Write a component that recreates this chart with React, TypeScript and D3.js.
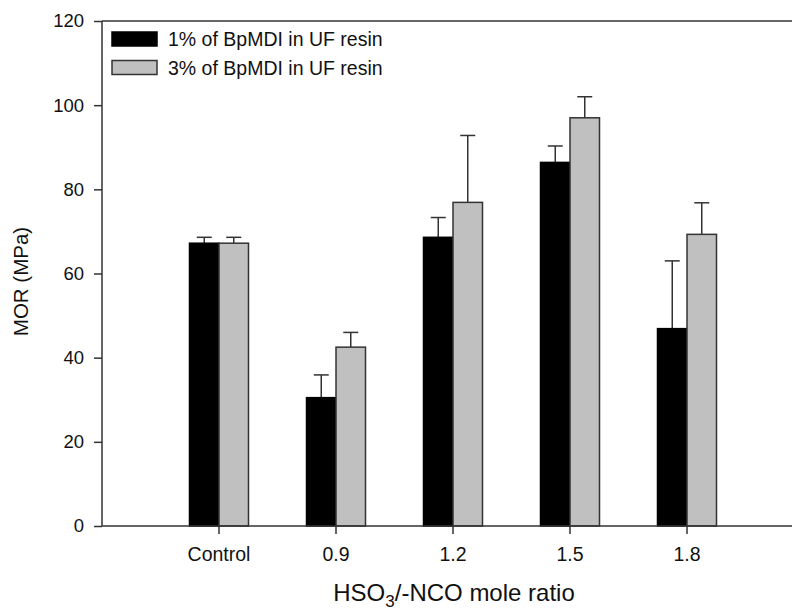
import { useRef, useEffect } from "react";
import * as d3 from "d3";

// MOR by HSO3/-NCO mole ratio, two BpMDI levels
const categories = ["Control", "0.9", "1.2", "1.5", "1.8"];
const seriesNames = ["1% of BpMDI in UF resin", "3% of BpMDI in UF resin"];
const mor1 = [67.2, 30.5, 68.6, 86.4, 46.9];
const err1 = [1.4, 5.4, 4.7, 3.9, 16.1];
const mor3 = [67.2, 42.5, 76.9, 97.0, 69.3];
const err3 = [1.4, 3.5, 15.9, 5.0, 7.5];
const yTicks = [0, 20, 40, 60, 80, 100, 120];

const width = 792;
const height = 610;
const margin = { top: 21, right: 0, bottom: 84, left: 102 };
const font = "Arial, 'Liberation Sans', sans-serif";
const fills = ["#000000", "#c0c0c0"];
const lineCol = "#333333";

const App = () => {
  const svgRef = useRef<SVGSVGElement>(null);

  useEffect(() => {
    const svg = d3.select(svgRef.current);
    svg.selectAll("*").remove();

    const y = d3
      .scaleLinear()
      .domain([0, 120])
      .range([height - margin.bottom, margin.top]);

    const x = d3.scaleBand().domain(categories).range([160.5, 745.5]).padding(0);
    const inner = d3.scaleBand().domain(["0", "1"]).range([-29.5, 29.5]);

    const rows = categories.map((c, i) => ({
      cat: c,
      vals: [
        { s: 0, v: mor1[i], e: err1[i] },
        { s: 1, v: mor3[i], e: err3[i] },
      ],
    }));

    const groups = svg
      .append("g")
      .selectAll("g")
      .data(rows)
      .enter()
      .append("g")
      .attr("transform", (d) => `translate(${x(d.cat)! + x.bandwidth() / 2},0)`);

    // error bars (upper only)
    groups
      .selectAll("g.err")
      .data((d) => d.vals)
      .enter()
      .append("g")
      .attr("class", "err")
      .each(function (d) {
        const g = d3.select(this);
        const cx = inner(String(d.s))! + inner.bandwidth() / 2;
        g.append("line")
          .attr("x1", cx)
          .attr("x2", cx)
          .attr("y1", y(d.v))
          .attr("y2", y(d.v + d.e))
          .attr("stroke", lineCol)
          .attr("stroke-width", 1.5);
        g.append("line")
          .attr("x1", cx - 7.5)
          .attr("x2", cx + 7.5)
          .attr("y1", y(d.v + d.e))
          .attr("y2", y(d.v + d.e))
          .attr("stroke", lineCol)
          .attr("stroke-width", 1.5);
      });

    groups
      .selectAll("rect")
      .data((d) => d.vals)
      .enter()
      .append("rect")
      .attr("x", (d) => inner(String(d.s))!)
      .attr("width", inner.bandwidth())
      .attr("y", (d) => y(d.v))
      .attr("height", (d) => y(0) - y(d.v))
      .attr("fill", (d) => fills[d.s])
      .attr("stroke", (d) => (d.s === 0 ? "#000" : lineCol))
      .attr("stroke-width", 1.5);

    // frame lines: top and bottom run off the right edge
    svg
      .append("line")
      .attr("x1", margin.left)
      .attr("x2", width)
      .attr("y1", y(120))
      .attr("y2", y(120))
      .attr("stroke", lineCol)
      .attr("stroke-width", 1.5);

    const yAxis = svg
      .append("g")
      .attr("transform", `translate(${margin.left},0)`)
      .call(d3.axisLeft(y).tickValues(yTicks).tickSize(8).tickPadding(10));
    yAxis.select(".domain").attr("stroke", lineCol).attr("stroke-width", 1.5).attr("d", `M0,${y(0)}V${y(120)}`);
    yAxis.selectAll(".tick line").attr("stroke", lineCol).attr("stroke-width", 1.5);
    yAxis
      .selectAll(".tick text")
      .attr("font-family", font)
      .attr("font-size", 18.5)
      .attr("fill", "#111");

    const xAxis = svg
      .append("g")
      .attr("transform", `translate(0,${y(0)})`)
      .call(d3.axisBottom(x).tickSize(8).tickPadding(13));
    xAxis.select(".domain").attr("stroke", lineCol).attr("stroke-width", 1.5).attr("d", `M${margin.left},0H${width}`);
    xAxis.selectAll(".tick line").attr("stroke", lineCol).attr("stroke-width", 1.5);
    xAxis
      .selectAll(".tick text")
      .attr("font-family", font)
      .attr("font-size", 19.5)
      .attr("fill", "#111");

    // axis titles
    svg
      .append("text")
      .attr("transform", `translate(28,${(y(0) + y(120)) / 2 + 8}) rotate(-90)`)
      .attr("text-anchor", "middle")
      .attr("font-family", font)
      .attr("font-size", 20.5)
      .attr("fill", "#111")
      .text("MOR (MPa)");

    const xt = svg
      .append("text")
      .attr("x", 454)
      .attr("y", 601)
      .attr("text-anchor", "middle")
      .attr("font-family", font)
      .attr("font-size", 24)
      .attr("fill", "#111");
    xt.append("tspan").text("HSO");
    xt.append("tspan").attr("font-size", 17).attr("dy", 6).text("3");
    xt.append("tspan").attr("dy", -6).text("/-NCO mole ratio");

    // legend
    const legend = svg
      .append("g")
      .selectAll("g")
      .data(seriesNames)
      .enter()
      .append("g")
      .attr("transform", (_d, i) => `translate(112,${32 + i * 28.5})`);
    legend
      .append("rect")
      .attr("width", 45)
      .attr("height", 14)
      .attr("fill", (_d, i) => fills[i])
      .attr("stroke", (_d, i) => (i === 0 ? "#000" : lineCol))
      .attr("stroke-width", 1.5);
    legend
      .append("text")
      .attr("x", 56)
      .attr("y", 14)
      .attr("font-family", font)
      .attr("font-size", 19.5)
      .attr("fill", "#111")
      .text((d) => d);
  }, []);

  return (
    <svg
      ref={svgRef}
      width={width}
      height={height}
      style={{ position: "absolute", left: 0, top: 0, background: "#fff" }}
    ></svg>
  );
};

export default App;
